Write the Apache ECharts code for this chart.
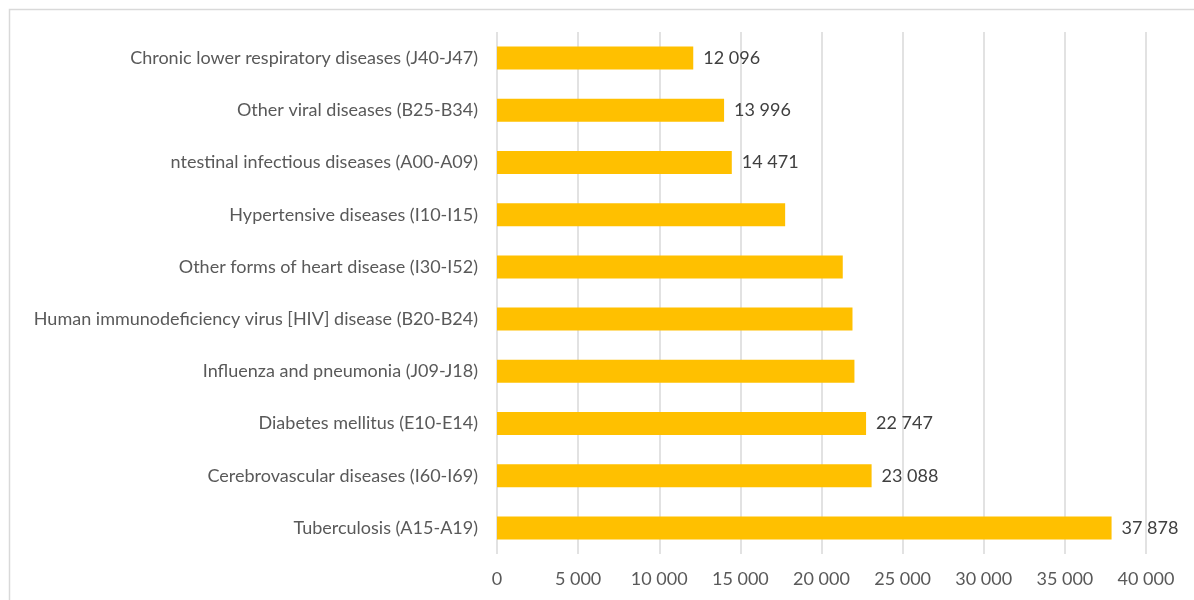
<!DOCTYPE html>
<html>
<head>
<meta charset="utf-8">
<script src="https://cdn.jsdelivr.net/npm/echarts@6/dist/echarts.min.js"></script>
<style>
  html, body { margin: 0; padding: 0; background: #fff; }
  #chart { width: 1194px; height: 600px; }
</style>
</head>
<body>
<div id="chart"></div>
<script>
// Causes of death, listed bottom-to-top as drawn on the category axis
const categories = [
  'Tuberculosis (A15-A19)',
  'Cerebrovascular diseases (I60-I69)',
  'Diabetes mellitus (E10-E14)',
  'Influenza and pneumonia (J09-J18)',
  'Human immunodeficiency virus [HIV] disease (B20-B24)',
  'Other forms of heart disease (I30-I52)',
  'Hypertensive diseases (I10-I15)',
  'ntestinal infectious diseases (A00-A09)',
  'Other viral diseases (B25-B34)',
  'Chronic lower respiratory diseases (J40-J47)'
];
const deaths = [37878, 23088, 22747, 22030, 21910, 21310, 17760, 14471, 13996, 12096];
// Which bars carry a value label
const labelled = [true, true, true, false, false, false, false, true, true, true];

const FONT = 'Lato, "Open Sans", sans-serif';
const fmt = v => String(Math.round(v)).replace(/\B(?=(\d{3})+(?!\d))/g, ' ');

const chart = echarts.init(document.getElementById('chart'), null, { renderer: 'canvas' });
chart.setOption({
  animation: false,
  backgroundColor: '#ffffff',
  graphic: [{
    type: 'rect',
    left: 7, top: 7,
    shape: { width: 1300, height: 700 },
    style: { fill: 'none', stroke: '#d9d9d9', lineWidth: 1.5 },
    silent: true
  }],
  grid: { left: 497, right: 48, top: 32, bottom: 46, containLabel: false },
  xAxis: {
    type: 'value',
    min: 0, max: 40000, interval: 5000,
    axisLine: { show: false },
    axisTick: { show: false },
    splitLine: { show: true, lineStyle: { color: '#d9d9d9', width: 1.5 } },
    axisLabel: {
      color: '#595959', fontFamily: FONT, fontSize: 18, margin: 16,
      formatter: v => fmt(v)
    }
  },
  yAxis: {
    type: 'category',
    data: categories,
    axisLine: { show: false },
    axisTick: { show: false },
    axisLabel: { color: '#595959', fontFamily: FONT, fontSize: 18, margin: 19 }
  },
  series: [{
    type: 'bar',
    barWidth: 23,
    data: deaths.map((v, i) => ({
      value: v,
      label: { show: labelled[i] }
    })),
    itemStyle: { color: '#ffc000' },
    label: {
      position: 'right', distance: 10,
      color: '#404040', fontFamily: FONT, fontSize: 18,
      formatter: p => fmt(p.value)
    }
  }]
});
</script>
</body>
</html>
